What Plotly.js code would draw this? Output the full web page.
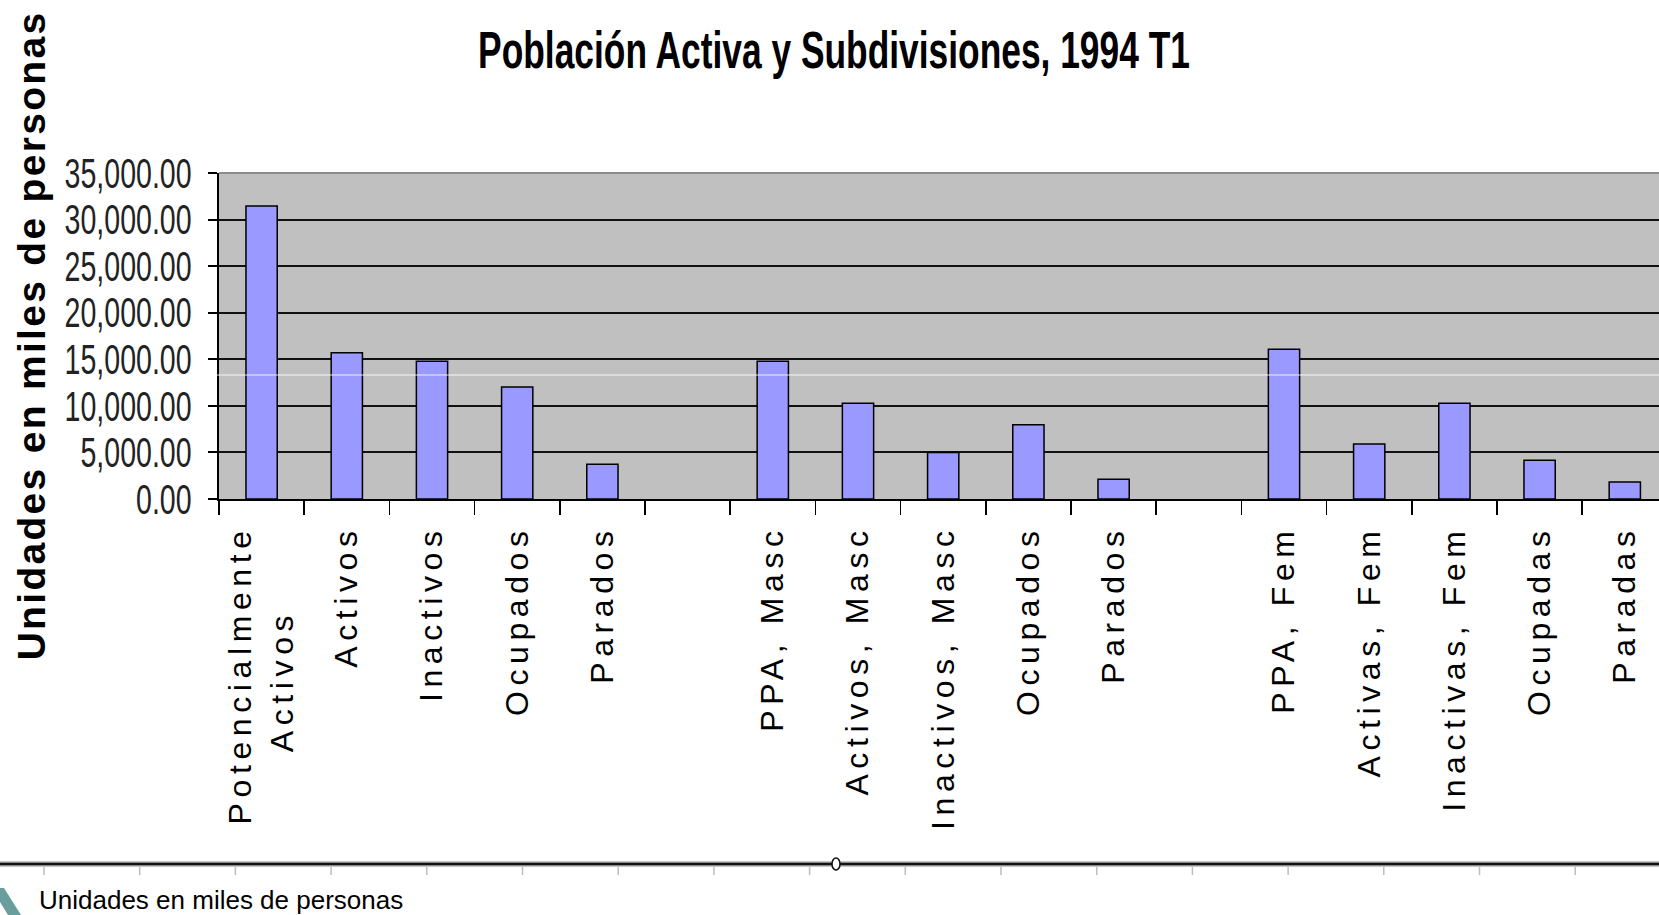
<!DOCTYPE html>
<html><head><meta charset="utf-8">
<script src="https://cdn.plot.ly/plotly-3.0.1.min.js"></script>
<style>
html,body{margin:0;padding:0;background:#fff;overflow:hidden;}
#chart{width:1659px;height:915px;}
g.x2tick text{letter-spacing:5.6px;}
g.ytick{transform-box:fill-box;transform-origin:100% 50%;transform:scaleX(0.68);}
g.g-gtitle{transform-box:fill-box;transform-origin:50% 50%;transform:scaleX(0.68);}
g.annotation[data-index="0"] text{letter-spacing:2.3px;}
</style></head><body><div id="chart"></div>
<script>
// ---- data ----
const NB = "\u00A0";
const categories = ["Potencialmente<br>Activos" + NB.repeat(5) + "\u2009","Activos","Inactivos","Ocupados","Parados","",
  "PPA, Masc","Activos, Masc","Inactivos, Masc","Ocupados","Parados","",
  "PPA, Fem","Activas, Fem","Inactivas, Fem","Ocupadas","Paradas"];
const values = [31470,15690,14790,12030,3740,null,
  14800,10290,4980,7970,2120,null,
  16070,5900,10290,4150,1830];
const titleText = "Población Activa y Subdivisiones, 1994 T1";
const yTitle = "Unidades en miles de personas";
const footerText = "Unidades en miles de personas";

// ---- geometry helpers ----
const FW = 1659, FH = 915, L = 219, T = 173, B = 416;
const PW = FW - L, PH = FH - T - B;
const px = x => (x - L) / PW;
const py = y => (FH - B - y) / PH;

const idx = categories.map((_, i) => i);
const bounds = categories.map((_, i) => i - 0.5).concat([categories.length - 0.5]);
const xRange = [-0.5, -0.5 + PW / 85.2];

const traces = [
  {type:'bar', x: idx, y: values, xaxis:'x', yaxis:'y',
   marker:{color:'#9999FF', line:{color:'#000', width:1.5}},
   hoverinfo:'skip', showlegend:false},
  {type:'scatter', mode:'markers', x: idx, y: values.map(() => null), xaxis:'x2', yaxis:'y',
   hoverinfo:'skip', showlegend:false}
];

const shapes = [];
shapes.push({type:'line', xref:'paper', yref:'paper', x0:0, x1:1, y0:1, y1:1, line:{color:'#8c8c8c', width:2}, layer:'above'});
shapes.push({type:'line', xref:'paper', yref:'paper', x0:px(217), x1:1, y0:py(375), y1:py(375), line:{color:'rgba(255,255,255,0.85)', width:1}, layer:'above'});
shapes.push({type:'line', xref:'paper', yref:'paper', x0:px(0), x1:px(FW), y0:py(864), y1:py(864), line:{color:'#8a8a8a', width:5}});
shapes.push({type:'line', xref:'paper', yref:'paper', x0:px(0), x1:px(FW), y0:py(864), y1:py(864), line:{color:'#111', width:2}});
for (let k = 0; k < 18; k++) {
  const xx = 44 + k * 95.7;
  shapes.push({type:'line', xref:'paper', yref:'paper', x0:px(xx), x1:px(xx), y0:py(867), y1:py(875), line:{color:'#bdbdbd', width:1.5}});
}
shapes.push({type:'circle', xref:'paper', yref:'paper', x0:px(832), x1:px(840), y0:py(858), y1:py(870), fillcolor:'#fff', line:{color:'#111', width:1.5}});
shapes.push({type:'path', xref:'paper', yref:'paper',
  path:`M ${px(0)} ${py(888)} L ${px(4)} ${py(888)} L ${px(21)} ${py(915)} L ${px(8)} ${py(915)} L ${px(0)} ${py(902)} Z`,
  fillcolor:'#6a9e9c', line:{width:0}});

const layout = {
  width: FW, height: FH,
  margin:{l:L, r:0, t:T, b:B, pad:0},
  paper_bgcolor:'#ffffff', plot_bgcolor:'#c0c0c0',
  bargap: 0.633,
  showlegend:false,
  title:{text: titleText, x: 834/FW, xanchor:'center', xref:'container',
         y: 1 - 32/FH, yanchor:'top', yref:'container',
         font:{family:'"Liberation Sans", Arial, sans-serif', size:52, weight:700, color:'#000'}},
  xaxis:{range: xRange, tickmode:'array', tickvals: bounds, ticktext: bounds.map(() => ''),
         ticks:'outside', ticklen:14, tickwidth:1.5, tickcolor:'#000',
         showgrid:false, zeroline:false, showline:true, linecolor:'#000', linewidth:2, fixedrange:true},
  xaxis2:{overlaying:'x', anchor:'y', side:'bottom', range: xRange, tickmode:'array',
          tickvals: idx, ticktext: categories, tickangle:-90, ticks:'',
          showgrid:false, showline:false, zeroline:false, ticklabelstandoff:19,
          tickfont:{family:'"Liberation Sans", Arial, sans-serif', size:32, color:'#000'}, fixedrange:true},
  yaxis:{range:[0,35000], dtick:5000, tick0:0, tickformat:',.2f',
         ticks:'outside', ticklen:9, tickwidth:2, tickcolor:'#000',
         showgrid:true, gridcolor:'#111', gridwidth:2, zeroline:false,
         showline:true, linecolor:'#000', linewidth:2, ticklabelstandoff:8,
         tickfont:{family:'"Liberation Sans", Arial, sans-serif', size:42, color:'#222'},
         fixedrange:true},
  shapes: shapes,
  annotations:[
    {text: yTitle, textangle:-90, xref:'paper', yref:'paper', x: px(31), y: 0.5,
     xanchor:'center', yanchor:'middle', showarrow:false,
     font:{family:'"Liberation Sans", Arial, sans-serif', size:39, weight:700, color:'#000'}},
    {text: footerText, xref:'paper', yref:'paper', x: px(37), y: py(900), xanchor:'left', yanchor:'middle',
     showarrow:false, font:{family:'"Liberation Sans", Arial, sans-serif', size:26, color:'#000'}}
  ]
};

Plotly.newPlot('chart', traces, layout, {displayModeBar:false, staticPlot:true});
</script></body></html>
